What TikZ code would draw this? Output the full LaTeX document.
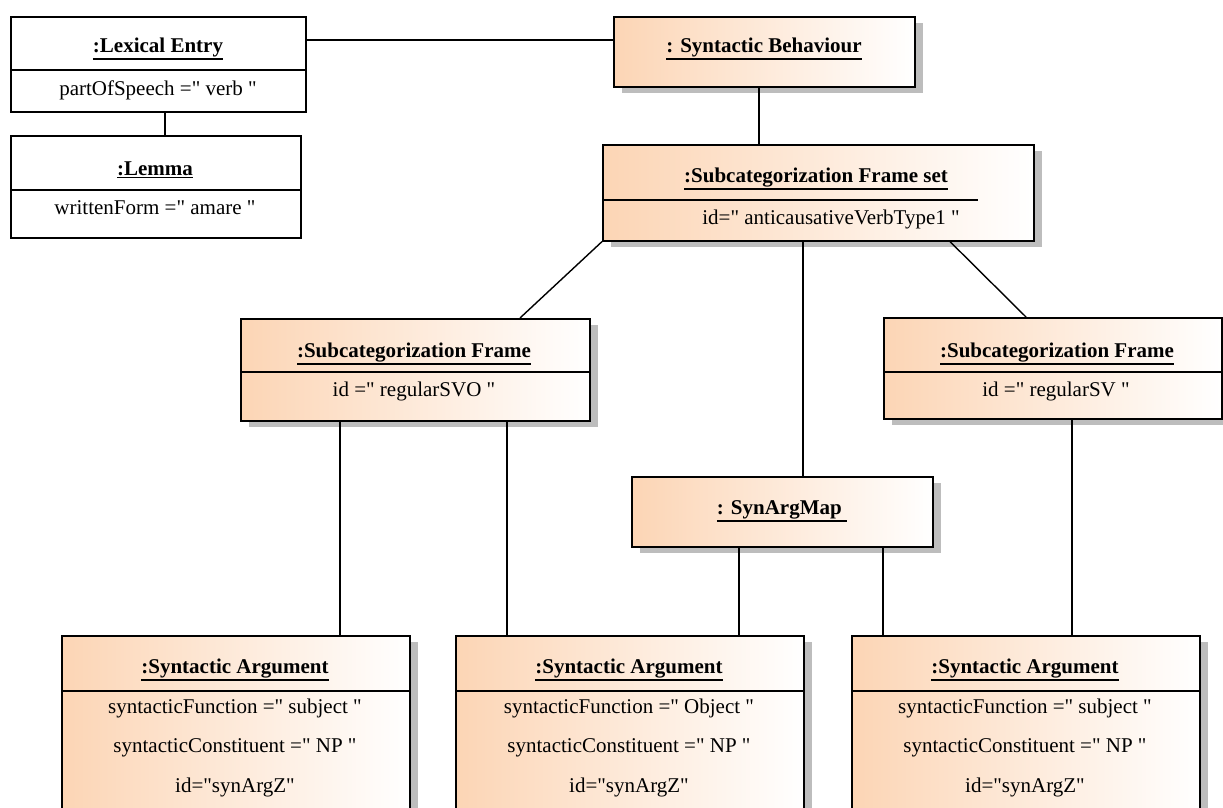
\documentclass[tikz,border=0pt]{standalone}
\usepackage{fontspec}
\setmainfont{Liberation Serif}[Ligatures=TeXOff]
\usetikzlibrary{shadows}
\definecolor{peach}{HTML}{FCD5B5}
\definecolor{shadowgray}{HTML}{BDBDBD}
% heavy underline placed below the descenders
\newcommand\heavyul[1]{\vtop{\hbox{#1}\kern1.2pt\hrule height 1.7pt}}
\begin{document}
\begin{tikzpicture}[x=1pt,y=-1pt,
  plainbox/.style={draw, line width=1.6pt, fill=white, anchor=north west, inner sep=0pt},
  objbox/.style={plainbox, left color=peach, right color=white,
    drop shadow={shadow xshift=8pt, shadow yshift=-6pt, fill=shadowgray, opacity=1}},
  title/.style={font=\fontsize{21}{25}\selectfont\bfseries, inner sep=0pt},
  attr/.style={font=\fontsize{21}{25}\selectfont, inner sep=0pt},
  sep/.style={line width=1.3pt},
  link/.style={line width=1.4pt}]
\useasboundingbox (0,0) rectangle (1223,808);
\clip (0,0) rectangle (1223,808);

% boxes
\node[plainbox, minimum width=295pt, minimum height=95pt] (le) at (10,16) {};
\node[plainbox, minimum width=290pt, minimum height=102pt] (lem) at (10,135) {};
\node[objbox, minimum width=301pt, minimum height=70pt] (sb) at (613,16) {};
\node[objbox, minimum width=431pt, minimum height=96pt] (sfs) at (602,144) {};
\node[objbox, minimum width=349pt, minimum height=102pt] (sfl) at (240,318) {};
\node[objbox, minimum width=338pt, minimum height=101pt] (sfr) at (883,317) {};
\node[objbox, minimum width=301pt, minimum height=70pt] (sam) at (631,476) {};
\node[objbox, minimum width=348pt, minimum height=200pt] (a1) at (61,635) {};
\node[objbox, minimum width=348pt, minimum height=200pt] (a2) at (455,635) {};
\node[objbox, minimum width=348pt, minimum height=200pt] (a3) at (851,635) {};

% connectors
\coordinate (leR) at ([yshift=-24pt]le.north east);
\draw[link] (leR) -- (leR -| sb.west);
\draw[link] (165,0 |- le.south) -- (165,0 |- lem.north);
\draw[link] (759,0 |- sb.south) -- (759,0 |- sfs.north);
\draw[link] (sfs.south west) -- (520,0 |- sfl.north);
\draw[link] (803,0 |- sfs.south) -- (803,0 |- sam.north);
\draw[link] (950,0 |- sfs.south) -- (1026,0 |- sfr.north);
\draw[link] (340,0 |- sfl.south) -- (340,0 |- a1.north);
\draw[link] (507,0 |- sfl.south) -- (507,0 |- a2.north);
\draw[link] (739,0 |- sam.south) -- (739,0 |- a2.north);
\draw[link] (883,0 |- sam.south) -- (883,0 |- a3.north);
\draw[link] (1072,0 |- sfr.south) -- (1072,0 |- a3.north);

% compartment separators
\draw[sep] (le.west |- 0,70) -- (le.east |- 0,70);
\draw[sep] (lem.west |- 0,190) -- (lem.east |- 0,190);
\draw[sep] (sfs.west |- 0,200) -- (978,200);
\draw[sep] (sfl.west |- 0,372) -- (sfl.east |- 0,372);
\draw[sep] (sfr.west |- 0,372) -- (sfr.east |- 0,372);
\draw[sep] (a1.west |- 0,691) -- (a1.east |- 0,691);
\draw[sep] (a2.west |- 0,691) -- (a2.east |- 0,691);
\draw[sep] (a3.west |- 0,691) -- (a3.east |- 0,691);

% texts
\node[title] (leT) at (158,49) {\heavyul{:Lexical Entry}};
\node[attr] (leA) at (158,90) {partOfSpeech =" verb "};
\node[title] (lemT) at (155,170) {\heavyul{:Lemma}};
\node[attr] (lemA) at (155,208) {writtenForm =" amare "};
\node[title] (sbT) at (764,49) {\heavyul{: Syntactic Behaviour}};
\node[title] (sfsT) at (816,179) {\heavyul{:Subcategorization Frame set}};
\node[attr] (sfsA) at (831,219) {id=" anticausativeVerbType1 "};
\node[title] (sflT) at (414,354) {\heavyul{:Subcategorization Frame}};
\node[attr] (sflA) at (414,391) {id =" regularSVO "};
\node[title] (sfrT) at (1057,354) {\heavyul{:Subcategorization Frame}};
\node[attr] (sfrA) at (1056,391) {id =" regularSV "};
\node[title] (samT) at (782,511) {\heavyul{: SynArgMap\ }};

\foreach \b/\cx/\fn in {a1/235/subject, a2/629/Object, a3/1025/subject}{
  \node[title] (\b T) at (\cx,670) {\heavyul{:Syntactic Argument}};
  \node[attr] (\b F) at (\cx,708) {syntacticFunction =" \fn\ "};
  \node[attr] (\b C) at (\cx,748) {syntacticConstituent =" NP "};
  \node[attr] (\b I) at (\cx,787) {id="synArgZ"};
}
\end{tikzpicture}
\end{document}
